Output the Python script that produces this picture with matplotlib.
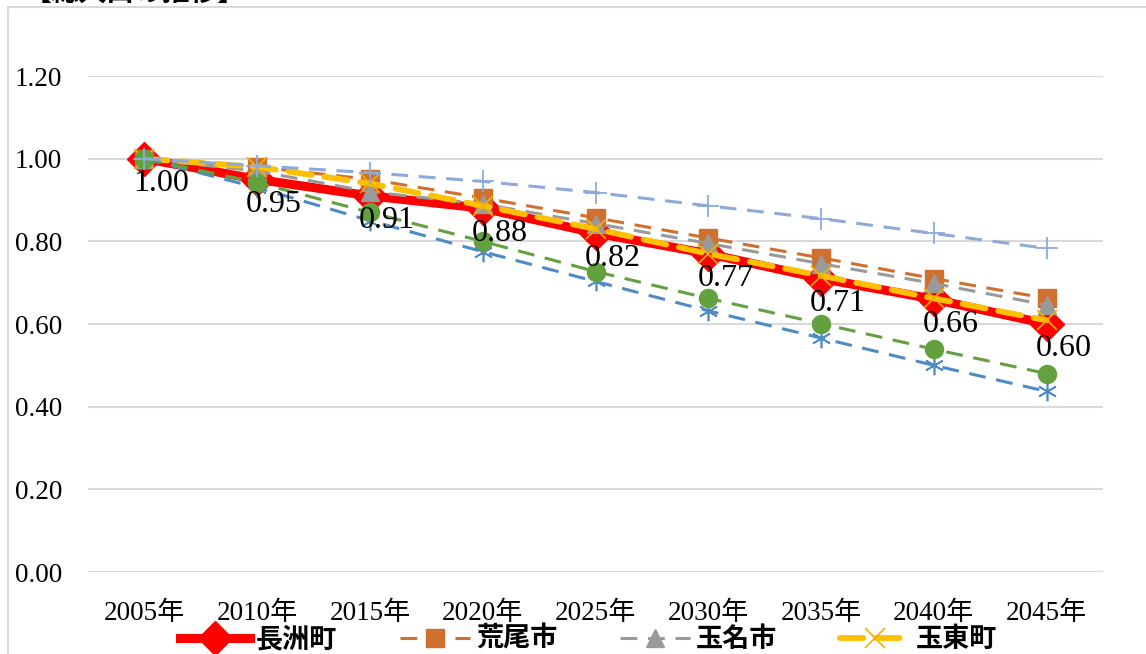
import matplotlib
matplotlib.use("Agg")
import matplotlib.pyplot as plt
from matplotlib.patches import Rectangle

# ---- data ----
years = ["2005年", "2010年", "2015年", "2020年", "2025年", "2030年", "2035年", "2040年", "2045年"]
nagasu = [1.00, 0.95, 0.91, 0.88, 0.82, 0.77, 0.71, 0.66, 0.60]
arao = [1.00, 0.98, 0.95, 0.905, 0.857, 0.808, 0.760, 0.710, 0.662]
tamana = [1.00, 0.97, 0.92, 0.89, 0.843, 0.795, 0.746, 0.698, 0.646]
gyokuto = [1.00, 0.98, 0.94, 0.886, 0.830, 0.770, 0.717, 0.662, 0.609]
series_plus = [1.00, 0.983, 0.966, 0.945, 0.918, 0.886, 0.855, 0.819, 0.783]
series_circle = [1.00, 0.942, 0.870, 0.800, 0.727, 0.662, 0.601, 0.539, 0.480]
series_star = [1.00, 0.93, 0.85, 0.775, 0.703, 0.632, 0.566, 0.500, 0.437]
yticks = [0.0, 0.2, 0.4, 0.6, 0.8, 1.0, 1.2]
legend_names = ["長洲町", "荒尾市", "玉名市", "玉東町"]
title_text = "【総人口の推移】"

W, H = 1146, 654
fig = plt.figure(figsize=(W / 100, H / 100), dpi=100)

def fx(px):
    return px / W

def fy(py):
    return 1 - py / H

# chart border
fig.patches.append(Rectangle((fx(8), fy(700)), 1.2, fy(7) - fy(700), transform=fig.transFigure,
                             fill=False, edgecolor="#D9D9D9", linewidth=1.5, zorder=0))
# cut-off title (only its lower edge is visible)
fig.text(fx(24), fy(0.5), title_text, ha="left", va="baseline", fontsize=20, fontweight="bold",
         family=["Noto Sans CJK JP"], color="black")

ax = fig.add_axes([fx(88), fy(572), fx(1103) - fx(88), fy(76) - fy(572)])
x = list(range(len(years)))

ax.set_xlim(-0.5, len(years) - 0.5)
ax.set_ylim(0, 1.2)
ax.set_yticks(yticks)
ax.set_yticklabels([f"{v:.2f}" for v in yticks], family=["Liberation Serif"], fontsize=19.5)
ax.set_xticks(x)
ax.set_xticklabels(years, family=["Liberation Serif", "Noto Sans CJK JP"], fontsize=19.5)
ax.tick_params(axis="both", length=0)
ax.tick_params(axis="y", pad=18.5)
ax.tick_params(axis="x", pad=21)
for s in ax.spines.values():
    s.set_visible(False)
ax.grid(axis="y", color="#D9D9D9", linewidth=1.5)
ax.set_axisbelow(True)

# series
l1, = ax.plot(x, nagasu, color="#FF0000", lw=6.5, marker="D", ms=17, mec="#FF0000",
              mfc="#FF0000", zorder=3, solid_joinstyle="round")
l2, = ax.plot(x, arao, color="#D0702E", lw=2.2, ls=(0, (5.5, 3.5)), marker="s", ms=13,
              mfc="#D0702E", mec="#D0702E", zorder=4)
l3, = ax.plot(x, tamana, color="#9A9A9A", lw=2.2, ls=(0, (5.5, 3.5)), marker="^", ms=13,
              mfc="#9A9A9A", mec="#9A9A9A", zorder=5)
l4, = ax.plot(x, gyokuto, color="#FFC000", lw=4.2, ls=(0, (4, 2.2)), marker="x", ms=14,
              mew=1.2, mec="#F0B000", zorder=6, dash_capstyle="round")
ax.plot(x, series_star, color="#4E8BC6", lw=2.2, ls=(0, (5.5, 3.5)), marker=(6, 2, 0), ms=14,
        mew=1.2, mec="#4E8BC6", zorder=7)
ax.plot(x, series_circle, color="#63A03E", lw=2.2, ls=(0, (5.5, 3.5)), marker="o", ms=13,
        mfc="#63A03E", mec="#63A03E", zorder=8)
ax.plot(x, series_plus, color="#8EAADB", lw=2.2, ls=(0, (5.5, 3.5)), marker="+", ms=16,
        mew=1.3, mec="#8EAADB", zorder=9)

for xi, v in zip(x, nagasu):
    ax.annotate(f"{v:.2f}", (xi, v), xytext=(17, -25), textcoords="offset pixels",
                ha="center", va="center", fontsize=23, family=["Liberation Serif"], zorder=20)

handles = [l1, l2, l3, l4]
leg = fig.legend(handles, legend_names, loc="center left", bbox_to_anchor=(fx(180), fy(639)),
                 ncol=4, frameon=False, handlelength=2.6, handletextpad=0.2,
                 columnspacing=2.32, borderpad=0, borderaxespad=0,
                 prop={"family": ["Noto Sans CJK JP"], "weight": "bold", "size": 19.5})

fig.savefig("out.png", dpi=100)
